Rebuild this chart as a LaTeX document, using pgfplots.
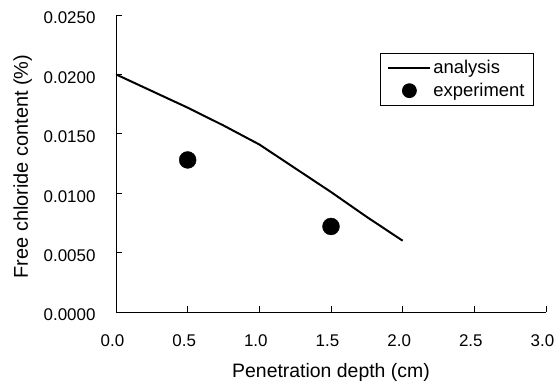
\documentclass[border=0pt]{standalone}
\usepackage{pgfplots}
\pgfplotsset{compat=1.18}
\usepackage{fontspec}
\setmainfont{Liberation Sans}
\pgfplotsset{
  lineleg/.style={legend image code/.code={\draw[##1] (0bp,0bp) -- (42bp,0bp);}},
  dotleg/.style={legend image code/.code={\draw[##1, mark size=7pt] plot coordinates {(21bp,0bp)};}},
}
\begin{document}
\begin{tikzpicture}
\useasboundingbox (-116bp,-72bp) rectangle (442bp,312bp);
\begin{axis}[
  at={(0,0)}, anchor=south west,
  scale only axis, width=430bp, height=297bp,
  xmin=0, xmax=3, ymin=0, ymax=0.025,
  axis lines=left, axis line style={-, line width=0.9pt},
  tick align=inside, major tick length=6bp,
  tick style={line width=0.8pt, black},
  xtick={0,0.5,1,1.5,2,2.5,3},
  xticklabels={0.0,0.5,1.0,1.5,2.0,2.5,3.0},
  ytick={0,0.005,0.01,0.015,0.02,0.025},
  yticklabels={0.0000,0.0050,0.0100,0.0150,0.0200,0.0250},
  scaled y ticks=false,
  tick label style={font=\fontsize{17}{20}\selectfont},
  xticklabel style={yshift=-19bp, xshift=-3.5bp},
  yticklabel style={xshift=-17bp, yshift=-3bp},
  every axis x label/.style={at={(axis description cs:0.5,-0.2222)}, anchor=base, font=\fontsize{19.5}{22}\selectfont},
  every axis y label/.style={at={(axis description cs:-0.2047,0.49)}, rotate=90, anchor=base, font=\fontsize{20}{22}\selectfont},
  xlabel={Penetration depth (cm)},
  ylabel={Free chloride content (\%)},
  legend style={at={(axis description cs:0.972,0.872)}, anchor=north east, draw=black, line width=0.8pt,
    font=\fontsize{18.5}{22}\selectfont, inner xsep=7bp, inner ysep=5bp, row sep=4bp,
    cells={anchor=west}},
]
\addplot[black, line width=2pt, lineleg]
  coordinates {(0,0.0200) (0.25,0.0186) (0.5,0.0172) (0.75,0.0157) (1.0,0.0141) (1.25,0.0121) (1.5,0.0101) (1.75,0.0080) (2.0,0.0060)};
\addlegendentry{analysis}
\addplot[only marks, mark=*, mark size=8.5pt, black, dotleg]
  coordinates {(0.5,0.0128) (1.5,0.0072)};
\addlegendentry{experiment}
\end{axis}
\end{tikzpicture}
\end{document}
